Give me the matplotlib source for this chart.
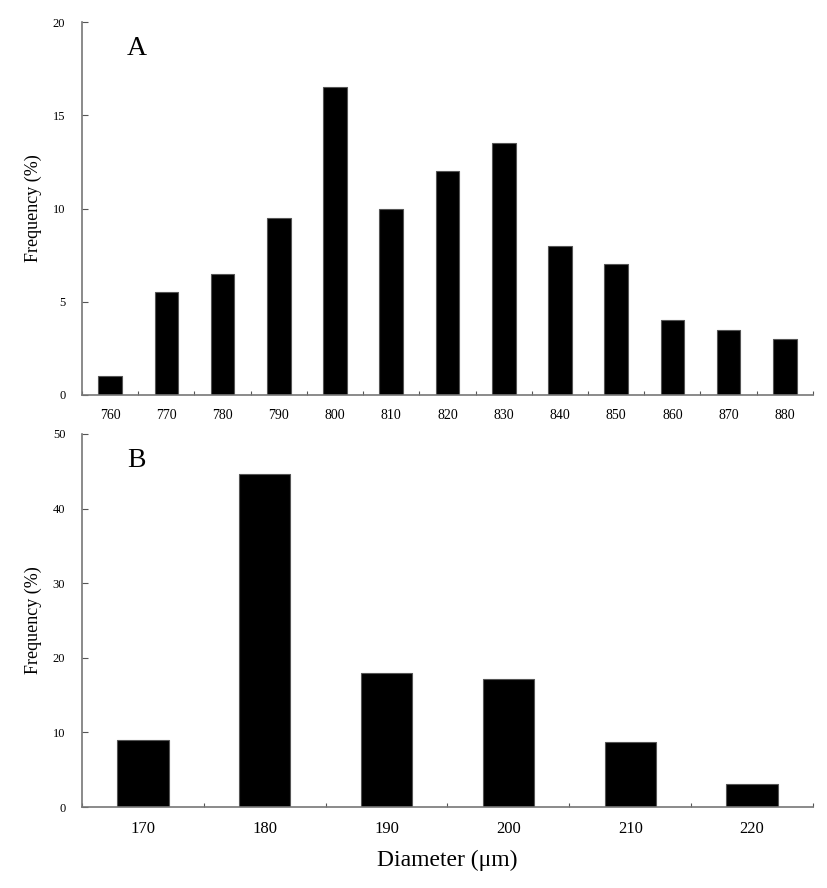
import matplotlib
matplotlib.use("Agg")
import matplotlib.pyplot as plt
import numpy as np

# Panel A
diam_a = ["760", "770", "780", "790", "800", "810", "820",
          "830", "840", "850", "860", "870", "880"]
freq_a = [1.0, 5.5, 6.5, 9.5, 16.5, 10.0, 12.0, 13.5, 8.0, 7.0, 4.0, 3.5, 3.0]

# Panel B
diam_b = ["170", "180", "190", "200", "210", "220"]
freq_b = [9.0, 44.6, 18.0, 17.1, 8.7, 3.1]

plt.rcParams["font.family"] = ["Liberation Serif", "DejaVu Serif"]

fig = plt.figure(figsize=(8.27, 8.88), dpi=100)
ax_a = fig.add_axes([0.0992, 0.5552, 0.8838, 0.4200])
ax_b = fig.add_axes([0.0992, 0.0912, 0.8838, 0.4201])


def style_panel(ax, cats, vals, ymax, ystep, xfs, xpad, letter):
    n = len(cats)
    centers = np.arange(n) + 0.5
    ax.bar(centers, vals, width=0.42, color="black", edgecolor="#555555", linewidth=0.8)
    ax.set_xlim(0, n)
    ax.set_ylim(0, ymax)
    ax.set_yticks(np.arange(0, ymax + 1, ystep))
    ax.set_xticks(np.arange(0, n + 1), minor=False)
    ax.set_xticklabels([])
    ax.set_xticks(centers, minor=True)
    ax.set_xticklabels(cats, minor=True, fontsize=xfs)
    ax.tick_params(axis="x", which="minor", length=0, pad=xpad)
    ax.tick_params(axis="x", which="major", direction="in", length=3, color="#555555")
    ax.tick_params(axis="y", direction="in", length=4, color="#555555", labelsize=9, pad=12)
    for s in ["top", "right"]:
        ax.spines[s].set_visible(False)
    for s in ["left", "bottom"]:
        ax.spines[s].set_color("#777777")
        ax.spines[s].set_linewidth(1.2)
    ax.set_ylabel("Frequency (%)", fontsize=13, labelpad=8)
    ax.text(0.075, 0.93, letter, transform=ax.transAxes, fontsize=20, ha="center", va="center")


style_panel(ax_a, diam_a, freq_a, 20, 5, 10, 10, "A")
style_panel(ax_b, diam_b, freq_b, 50, 10, 12, 10, "B")
ax_b.set_xlabel("Diameter (μm)", fontsize=17, labelpad=9)

fig.savefig("out.png", dpi=100)
